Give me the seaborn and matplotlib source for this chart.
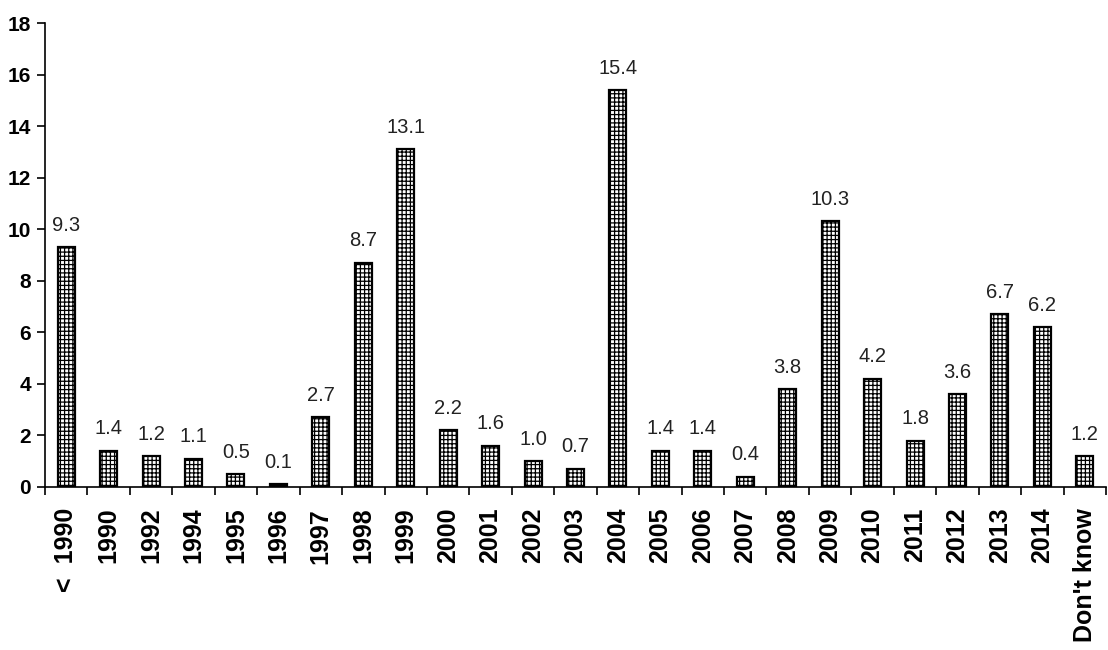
import numpy as np
import pandas as pd
import matplotlib
matplotlib.use('Agg')
import matplotlib.pyplot as plt
import seaborn as sns

# === Dữ liệu ===
years = ['<  1990', '1990', '1992', '1994', '1995', '1996', '1997', '1998', '1999',
         '2000', '2001', '2002', '2003', '2004', '2005', '2006', '2007', '2008',
         '2009', '2010', '2011', '2012', '2013', '2014', "Don't know"]
percent = [9.3, 1.4, 1.2, 1.1, 0.5, 0.1, 2.7, 8.7, 13.1,
           2.2, 1.6, 1.0, 0.7, 15.4, 1.4, 1.4, 0.4, 3.8,
           10.3, 4.2, 1.8, 3.6, 6.7, 6.2, 1.2]
y_ticks = [0, 2, 4, 6, 8, 10, 12, 14, 16, 18]

df = pd.DataFrame({'year': years, 'percent': percent})

sns.set_style('white')
plt.rcParams['font.family'] = ['Liberation Sans', 'DejaVu Sans']
plt.rcParams['hatch.linewidth'] = 0.9
plt.rcParams['text.color'] = 'black'
plt.rcParams['xtick.color'] = 'black'
plt.rcParams['ytick.color'] = 'black'

fig = plt.figure(figsize=(11.08, 6.5), dpi=100)
ax = fig.add_axes([0.0406, 0.2508, 0.9576, 0.7138])

sns.barplot(data=df, x='year', y='percent', color='white', saturation=1,
            edgecolor='black', linewidth=1.6, width=0.4, hatch='++++', ax=ax)

# nhãn giá trị trên cột
ax.bar_label(ax.containers[0], fmt='%.1f', padding=9, fontsize=14.5,
             color='#222222')

ax.set_ylim(0, 18)
ax.set_xlim(-0.5, len(years) - 0.5)
ax.set_yticks(y_ticks)
ax.set_yticklabels([str(t) for t in y_ticks], fontsize=15, fontweight='bold')
ax.tick_params(axis='y', direction='out', length=6, width=1.2, left=True, pad=4)

ax.set_xticks(range(len(years)))
ax.set_xticklabels(years, rotation=90, fontsize=18, fontweight='bold')
ax.tick_params(axis='x', which='major', length=0, pad=15)
ax.set_xticks(np.arange(-0.5, len(years), 1), minor=True)
ax.tick_params(axis='x', which='minor', direction='out', length=6, width=1.2, bottom=True)

ax.set_xlabel('')
ax.set_ylabel('')
sns.despine(ax=ax)
for side in ['left', 'bottom']:
    ax.spines[side].set_linewidth(1.2)
    ax.spines[side].set_color('black')

fig.savefig('out.png', dpi=100)
